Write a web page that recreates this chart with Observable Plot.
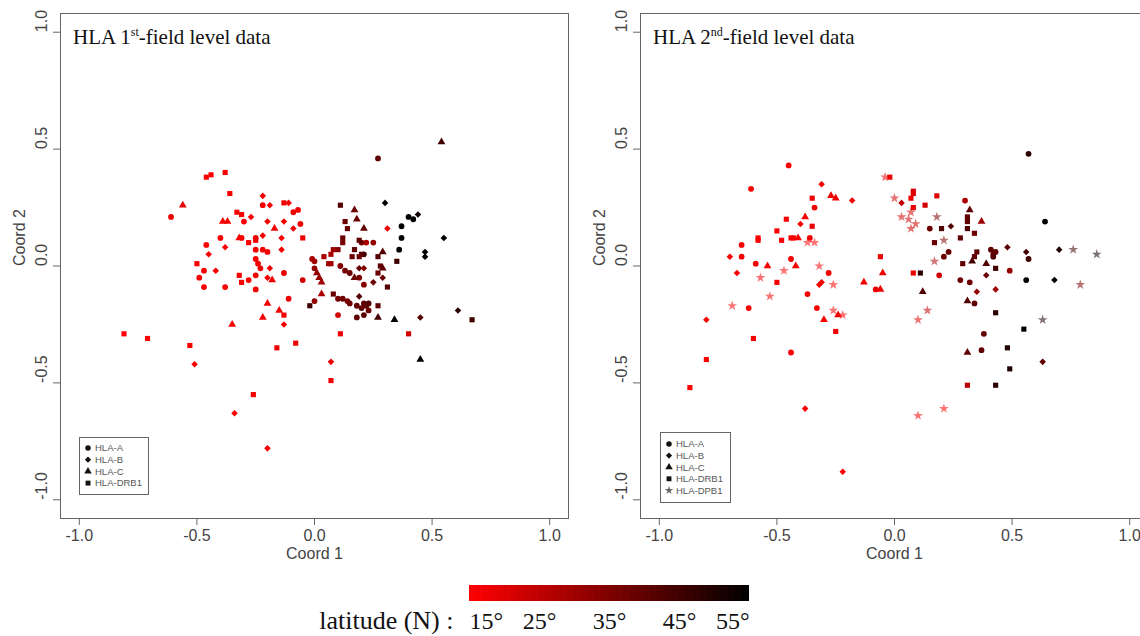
<!DOCTYPE html>
<html>
<head>
<meta charset="utf-8">
<script src="https://cdn.jsdelivr.net/npm/d3@7"></script>
<script src="https://cdn.jsdelivr.net/npm/@observablehq/plot@0.6"></script>
<style>
  html, body { margin: 0; padding: 0; background: #fff; }
  #page { position: relative; width: 1140px; height: 636px; overflow: hidden; background: #fff; }
  .abs { position: absolute; }
  #page svg { max-width: none !important; }
  #overlay { position: absolute; left: 0; top: 0; pointer-events: none; }
</style>
</head>
<body>
<div id="page">
  <div id="left" class="abs" style="left:0;top:0;width:580px"></div>
  <div id="right" class="abs" style="left:580px;top:0;width:580px"></div>
  <div id="bar" class="abs" style="left:0;top:575px;width:1140px"></div>
  <svg id="overlay" width="1140" height="636"></svg>
</div>
<script>
// ---------- data ----------
const xTicks = [-1, -0.5, 0, 0.5, 1];
const yTicks = [-1, -0.5, 0, 0.5, 1];
const latTicks = [15, 25, 35, 45, 55];
const loci1 = ["HLA-A", "HLA-B", "HLA-C", "HLA-DRB1"];
const loci2 = ["HLA-A", "HLA-B", "HLA-C", "HLA-DRB1", "HLA-DPB1"];
const title1 = ["HLA 1", "st", "-field level data"];
const title2 = ["HLA 2", "nd", "-field level data"];

// [Coord 1, Coord 2, latitude]
const left_A = [
  [-0.61,0.21,17],[-0.22,0.26,17],[-0.09,0.23,18],[-0.07,0.24,17],[-0.30,0.19,16],[-0.06,0.18,17],
  [-0.40,0.12,16],[-0.31,0.12,16],[-0.25,0.12,17],[-0.46,0.09,16],[-0.25,0.07,17],[-0.22,0.07,17],
  [-0.20,0.06,17],[-0.25,0.03,17],[-0.24,0.01,17],[-0.23,-0.01,18],[-0.47,-0.02,16],[-0.13,-0.03,18],
  [-0.49,-0.05,16],[-0.28,-0.06,16],[-0.25,-0.04,17],[-0.47,-0.09,16],[-0.38,-0.09,16],[-0.25,-0.10,17],
  [-0.11,-0.14,18],[0.10,-0.21,22],[-0.05,-0.06,22],[0.22,0.10,28],[0.25,0.10,32],[0.21,0.05,45],
  [-0.01,0.03,28],[0.00,0.02,30],[0.11,0.00,34],[0.13,-0.02,36],[0.15,-0.03,38],[0.00,-0.01,32],
  [0.19,-0.05,36],[0.21,-0.08,34],[0.10,-0.14,36],[0.12,-0.14,38],[0.14,-0.15,36],[0.15,-0.16,38],
  [0.21,-0.16,40],[0.22,-0.17,40],[0.23,-0.16,42],[0.00,-0.15,32],[0.18,-0.17,40],[0.20,-0.18,40],
  [0.23,-0.19,38],[0.18,-0.22,40],[0.21,-0.21,40],[0.27,0.46,40],[0.40,0.21,55],[0.42,0.20,55],
  [0.37,0.17,55],[0.37,0.12,55],[0.36,0.07,55],[0.20,0.10,36]
];
const left_B = [
  [-0.22,0.30,17],[-0.19,0.26,17],[-0.11,0.27,17],[-0.27,0.21,16],[-0.20,0.19,17],[-0.13,0.19,17],
  [-0.09,0.16,18],[-0.22,0.13,17],[-0.14,0.12,17],[-0.38,0.08,16],[-0.45,0.05,16],[-0.14,0.07,17],
  [-0.42,-0.02,16],[-0.19,-0.01,17],[-0.20,-0.05,17],[-0.13,-0.25,18],[-0.51,-0.42,16],[-0.34,-0.63,16],
  [-0.20,-0.78,16],[0.07,-0.41,18],[0.31,0.16,18],[0.19,-0.01,40],[0.21,-0.01,34],[0.29,-0.05,38],
  [0.25,-0.07,38],[0.19,-0.13,42],[0.45,-0.22,42],[0.61,-0.19,48],[0.30,0.27,55],[0.44,0.22,52],
  [0.55,0.12,55],[0.47,0.06,55],[0.47,0.04,55]
];
const left_C = [
  [-0.56,0.26,18],[-0.39,0.19,16],[-0.37,0.19,16],[-0.17,0.16,17],[-0.32,0.12,16],[-0.18,-0.06,17],
  [-0.20,-0.16,17],[-0.22,-0.22,17],[-0.15,-0.19,17],[-0.35,-0.25,16],[0.17,0.24,38],[0.18,0.20,38],
  [0.21,0.16,40],[0.29,0.06,42],[0.29,-0.01,40],[0.01,-0.03,32],[0.02,-0.05,32],[0.17,-0.05,38],
  [0.03,-0.07,30],[0.03,-0.12,28],[0.27,-0.22,45],[0.34,-0.23,55],[0.45,-0.40,55],[0.54,0.53,45]
];
const left_DRB1 = [
  [-0.38,0.40,16],[-0.44,0.39,16],[-0.46,0.38,16],[-0.36,0.31,16],[-0.13,0.27,17],[-0.33,0.23,16],
  [-0.31,0.22,16],[-0.25,0.11,17],[-0.05,0.12,18],[-0.28,0.10,16],[-0.50,0.01,16],[-0.32,-0.04,16],
  [-0.31,-0.07,16],[-0.13,-0.21,17],[-0.81,-0.29,15],[-0.71,-0.31,15],[-0.53,-0.34,16],[-0.26,-0.55,16],
  [-0.16,-0.35,17],[-0.08,-0.33,18],[0.07,-0.49,18],[0.11,-0.29,18],[0.40,-0.29,22],[0.11,0.26,42],
  [0.13,0.19,38],[0.14,0.16,38],[0.12,0.12,38],[0.12,0.10,36],[0.19,0.11,40],[0.08,0.07,30],
  [0.10,0.07,34],[0.07,0.05,28],[0.04,0.04,28],[0.17,0.07,40],[0.20,0.05,42],[0.27,0.04,42],
  [0.35,0.02,45],[0.06,0.01,30],[0.07,0.01,30],[0.16,0.04,38],[0.19,0.04,38],[0.28,0.00,40],
  [0.27,-0.03,38],[0.31,-0.09,42],[0.08,-0.12,38],[0.27,-0.17,40],[-0.02,-0.17,45],[0.67,-0.23,45]
];

const right_A = [
  [-0.45,0.43,16],[-0.61,0.33,16],[-0.34,0.25,17],[-0.36,0.12,16],[-0.65,0.09,16],[-0.65,0.04,16],
  [-0.59,0.01,16],[-0.44,0.03,16],[-0.28,-0.03,17],[-0.37,-0.12,16],[-0.62,-0.18,16],[-0.33,-0.18,16],
  [-0.44,-0.37,16],[-0.08,-0.10,18],[0.57,0.48,48],[0.30,0.28,28],[0.15,0.16,38],[0.23,0.06,38],
  [0.21,0.04,38],[0.41,0.07,40],[0.42,0.05,40],[0.42,0.04,42],[0.43,0.06,40],[0.64,0.19,55],
  [0.49,-0.02,32],[0.19,-0.04,22],[0.28,-0.06,38],[0.32,-0.07,38],[0.56,-0.06,55],[0.57,0.03,45],
  [0.34,-0.16,40],[0.38,-0.29,40],[0.37,-0.36,40]
];
const right_B = [
  [-0.31,0.35,17],[-0.18,0.28,18],[-0.40,0.18,16],[-0.70,0.04,16],[-0.67,-0.03,16],[-0.32,-0.08,16],
  [-0.31,-0.07,16],[-0.80,-0.23,16],[-0.38,-0.61,16],[-0.22,-0.88,16],[0.03,0.27,25],[0.24,0.17,42],
  [0.48,0.08,40],[0.56,0.06,45],[0.70,0.07,50],[0.39,-0.04,38],[0.68,-0.06,55],[0.35,-0.11,32],
  [0.43,-0.10,30],[0.63,-0.41,40]
];
const right_C = [
  [-0.27,0.30,17],[-0.25,0.29,17],[-0.38,0.21,16],[-0.41,0.12,16],[-0.54,0.00,16],[-0.42,0.00,16],
  [-0.24,-0.21,17],[-0.30,-0.23,16],[-0.05,-0.03,18],[-0.13,-0.07,17],[-0.06,-0.10,18],[0.32,0.24,40],
  [0.37,0.19,30],[0.33,0.02,45],[0.39,0.01,42],[0.12,-0.11,42],[0.31,-0.15,42],[0.31,-0.37,40]
];
const right_DRB1 = [
  [-0.35,0.29,17],[-0.46,0.20,16],[-0.35,0.17,18],[-0.50,0.15,16],[-0.58,0.12,16],[-0.58,0.11,16],
  [-0.48,0.11,16],[-0.44,0.12,16],[-0.43,0.12,16],[-0.50,-0.07,16],[-0.25,-0.28,17],[-0.60,-0.31,16],
  [-0.80,-0.40,16],[-0.87,-0.52,15],[-0.02,0.38,18],[-0.06,0.04,18],[0.08,0.32,20],[0.08,0.31,20],
  [0.07,0.29,18],[0.18,0.30,20],[0.13,0.26,22],[0.08,0.25,18],[0.31,0.21,40],[0.31,0.19,40],
  [0.20,0.16,42],[0.31,0.16,42],[0.34,0.14,38],[0.28,0.12,40],[0.17,0.10,38],[0.35,0.06,40],
  [0.34,0.04,40],[0.29,0.01,40],[0.43,-0.01,45],[0.08,-0.03,18],[0.11,-0.03,48],[0.43,-0.20,48],
  [0.55,-0.27,55],[0.48,-0.35,50],[0.49,-0.44,50],[0.31,-0.51,25],[0.43,-0.51,48]
];
const right_DPB1 = [
  [-0.37,0.10,16],[-0.34,0.10,16],[-0.57,-0.05,16],[-0.47,-0.02,16],[-0.32,0.00,16],[-0.26,-0.08,16],
  [-0.53,-0.13,16],[-0.69,-0.17,16],[-0.26,-0.19,16],[-0.22,-0.21,16],[0.10,-0.64,16],[0.21,-0.61,16],
  [-0.04,0.38,18],[0.00,0.29,22],[0.07,0.23,22],[0.03,0.21,22],[0.06,0.20,22],[0.09,0.18,22],
  [0.07,0.16,22],[0.18,0.21,35],[0.21,0.11,35],[0.17,0.02,28],[0.14,-0.19,25],[0.10,-0.23,20],
  [0.76,0.07,45],[0.86,0.05,52],[0.79,-0.08,35],[0.63,-0.23,50]
];

// ---------- helpers ----------
const diamondSym = {
  draw(ctx, size) {
    const s = Math.sqrt(size / 2) * 0.9;
    ctx.moveTo(0, -s); ctx.lineTo(s, 0); ctx.lineTo(0, s); ctx.lineTo(-s, 0); ctx.closePath();
  }
};
const symbolOf = {
  "HLA-A": d3.symbolCircle, "HLA-B": diamondSym, "HLA-C": d3.symbolTriangle,
  "HLA-DRB1": d3.symbolSquare, "HLA-DPB1": d3.symbolStar
};
const colorScale = {type: "linear", domain: [latTicks[0], latTicks[latTicks.length - 1]],
                    range: ["#ff0000", "#000000"], interpolate: "rgb"};
const fmt = d => d.toFixed(1);
const SANS = "'Liberation Sans', Arial, sans-serif";
const SERIF = "'Liberation Serif', 'Times New Roman', serif";

function rows(groups, loci) {
  const out = [];
  groups.forEach((g, i) => g.forEach(([x, y, lat]) => out.push({x, y, lat, locus: loci[i]})));
  return out;
}

function panel(groups, loci) {
  const all = rows(groups, loci);
  const solid = all.filter(d => d.locus !== "HLA-DPB1");
  const stars = all.filter(d => d.locus === "HLA-DPB1");
  return Plot.plot({
    width: 580, height: 570,
    marginLeft: 60, marginRight: 12, marginTop: 13, marginBottom: 52,
    style: {fontFamily: SANS, fontSize: "16px", color: "#555", background: "#fff", maxWidth: "none"},
    x: {domain: [-1.08, 1.08], axis: null},
    y: {domain: [-1.08, 1.08], axis: null},
    color: colorScale,
    symbol: {domain: loci, range: loci.map(l => symbolOf[l])},
    marks: [
      Plot.frame({stroke: "#666"}),
      Plot.axisX({ticks: xTicks, tickSize: 7, tickPadding: 4, fontSize: 16, tickFormat: fmt,
                  label: null, fill: "#444", stroke: "#666"}),
      Plot.axisY({ticks: yTicks, tickSize: 7, tickFormat: () => "", label: null, stroke: "#666"}),
      Plot.text(yTicks, {y: d => d, text: fmt, frameAnchor: "left", dx: -19, rotate: -90,
                         fontSize: 16, fill: "#444"}),
      Plot.text(["Coord 1"], {text: d => d, frameAnchor: "bottom", dy: 40, fontSize: 16, fill: "#444"}),
      Plot.text(["Coord 2"], {text: d => d, frameAnchor: "left", dx: -41, rotate: -90, fontSize: 16, fill: "#444"}),
      Plot.dot(solid, {x: "x", y: "y", fill: "lat", symbol: "locus", r: 2.9, stroke: null}),
      Plot.dot(stars, {x: "x", y: "y", fill: "lat", symbol: "locus", r: 3.1, fillOpacity: 0.55, stroke: null})
    ]
  });
}

document.getElementById("left").appendChild(panel([left_A, left_B, left_C, left_DRB1], loci1));
document.getElementById("right").appendChild(panel([right_A, right_B, right_C, right_DRB1, right_DPB1], loci2));

// ---------- colour bar ----------
const steps = d3.range(latTicks[0], latTicks[latTicks.length - 1], 0.2);
const last = latTicks[latTicks.length - 1];
const barTxt = {frameAnchor: "bottom", dy: 27, fontSize: 24, fontFamily: SERIF, fill: "#111"};
document.getElementById("bar").appendChild(Plot.plot({
  width: 1140, height: 61,
  marginLeft: 469, marginRight: 391, marginTop: 10, marginBottom: 35,
  style: {background: "transparent", overflow: "visible", maxWidth: "none"},
  x: {domain: [latTicks[0], last], axis: null},
  color: colorScale,
  marks: [
    Plot.rect(steps, {x1: d => d, x2: d => Math.min(last, d + 0.3), fill: d => d + 0.1}),
    Plot.text(latTicks.slice(0, 1), {...barTxt, x: d => d, text: d => d + "°", textAnchor: "start"}),
    Plot.text(latTicks.slice(1, -1), {...barTxt, x: d => d, text: d => d + "°", textAnchor: "middle"}),
    Plot.text(latTicks.slice(-1), {...barTxt, x: d => d, text: d => d + "°", textAnchor: "end"}),
    Plot.text(["latitude (N) :"], {...barTxt, fontSize: 26, x: () => latTicks[0], text: d => d,
                                   textAnchor: "end", dx: -16})
  ]
}));

// ---------- titles and shape legends ----------
const ov = d3.select("#overlay");
function title(parts, x) {
  const t = ov.append("text").attr("x", x).attr("y", 44)
    .attr("font-family", SERIF).attr("font-size", 21).attr("fill", "#111");
  t.append("tspan").text(parts[0]);
  t.append("tspan").attr("dy", -8).attr("font-size", 12).text(parts[1]);
  t.append("tspan").attr("dy", 8).attr("font-size", 21).text(parts[2]);
}
title(title1, 73);
title(title2, 653);

function legend(loci, x, y, w, h, y0, step) {
  const g = ov.append("g");
  g.append("rect").attr("x", x + 0.5).attr("y", y + 0.5).attr("width", w).attr("height", h)
    .attr("fill", "#fff").attr("stroke", "#666");
  loci.forEach((l, i) => {
    const cy = y0 + i * step;
    g.append("path").attr("transform", `translate(${x + 9},${cy})`)
      .attr("d", d3.symbol(symbolOf[l], l === "HLA-DPB1" ? 22 : 24)())
      .attr("fill", l === "HLA-DPB1" ? "#666" : "#111");
    g.append("text").attr("x", x + 16).attr("y", cy).attr("dy", "0.35em")
      .attr("font-family", SANS).attr("font-size", 9.5).attr("fill", "#555").text(l);
  });
}
legend(loci1, 79, 437, 69, 57, 448, 11.7);
legend(loci2, 660, 432, 70, 70, 444, 11.6);
</script>
</body>
</html>
